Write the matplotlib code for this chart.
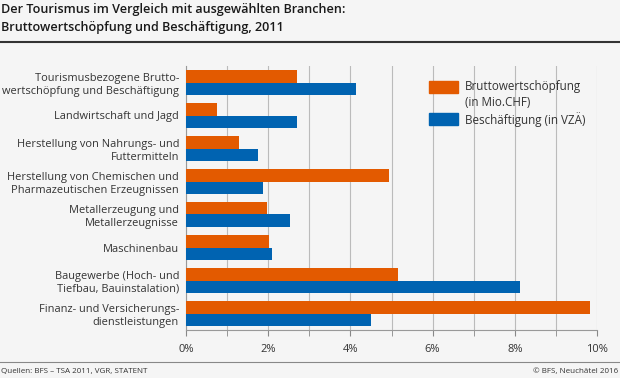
import matplotlib.pyplot as plt
from matplotlib.patches import Rectangle
import numpy as np

plt.rcParams['font.family'] = ['Open Sans', 'DejaVu Sans']

categories = [
    "Tourismusbezogene Brutto-\nwertschöpfung und Beschäftigung",
    "Landwirtschaft und Jagd",
    "Herstellung von Nahrungs- und\nFuttermitteln",
    "Herstellung von Chemischen und\nPharmazeutischen Erzeugnissen",
    "Metallerzeugung und\nMetallerzeugnisse",
    "Maschinenbau",
    "Baugewerbe (Hoch- und\nTiefbau, Bauinstalation)",
    "Finanz- und Versicherungs-\ndienstleistungen",
]
bws = [2.71, 0.75, 1.30, 4.95, 1.97, 2.03, 5.15, 9.82]
besch = [4.13, 2.71, 1.74, 1.88, 2.54, 2.10, 8.13, 4.51]
series_labels = ["Bruttowertschöpfung\n(in Mio.CHF)", "Beschäftigung (in VZÄ)"]
xticks = [0, 2, 4, 6, 8, 10]

BG = "#f5f5f5"
ORANGE = "#e35a00"
BLUE = "#0063b1"
TEXT = "#333333"


def px(x, y):
    # pixel position (from top-left) -> figure fraction
    return x / 620, 1 - y / 378


fig = plt.figure(figsize=(6.2, 3.78), dpi=100, facecolor=BG)
ax = fig.add_axes([186 / 620, 1 - 330 / 378, 411 / 620, 264 / 378])
ax.set_facecolor(BG)

y = np.arange(len(categories))
h = 0.37
ax.barh(y - h / 2, bws, height=h, color=ORANGE, zorder=3)
ax.barh(y + h / 2, besch, height=h, color=BLUE, zorder=3)

ax.set_ylim(len(categories) - 0.5, -0.5)
ax.set_xlim(0, 10)
ax.set_yticks(y)
ax.set_yticklabels(categories, fontsize=7.9, color=TEXT)
ax.tick_params(axis="y", length=0, pad=5)
ax.set_xticks(xticks)
ax.set_xticklabels([f"{t}%" for t in xticks], fontsize=8, color=TEXT)
ax.set_xticks(np.arange(0, 11, 1), minor=True)
ax.tick_params(axis="x", which="both", length=4, color="#888888", pad=6)
ax.grid(axis="x", which="both", color="#bbbbbb", linewidth=0.8, zorder=0)

for s in ["top", "right"]:
    ax.spines[s].set_visible(False)
for s in ["left", "bottom"]:
    ax.spines[s].set_color("#999999")
    ax.spines[s].set_linewidth(0.8)

# legend drawn by hand so the patch sits next to the first label line
for (ly, label, color) in [(81, series_labels[0], ORANGE), (113, series_labels[1], BLUE)]:
    x0, y0 = px(429, ly + 12)
    fig.add_artist(Rectangle((x0, y0), 29 / 620, 12 / 378, color=color,
                             transform=fig.transFigure))
    fig.text(*px(465, ly - 1), label, fontsize=8.4, color=TEXT, va="top",
             linespacing=1.35)

fig.text(*px(1, 3.5), "Der Tourismus im Vergleich mit ausgewählten Branchen:\n"
         "Bruttowertschöpfung und Beschäftigung, 2011",
         fontsize=9.1, fontweight="semibold", color="#1a1a1a", va="top",
         linespacing=1.42)
fig.add_artist(plt.Line2D([0, 1], [1 - 42 / 378] * 2, color="#333333", linewidth=1.5))
fig.add_artist(plt.Line2D([0, 1], [1 - 362 / 378] * 2, color="#888888", linewidth=0.8))
fig.text(*px(1, 371), "Quellen: BFS – TSA 2011, VGR, STATENT",
         fontsize=5.8, color=TEXT, va="center")
fig.text(*px(618, 371), "© BFS, Neuchâtel 2016",
         fontsize=5.8, color=TEXT, va="center", ha="right")

fig.savefig("out.png", dpi=100, facecolor=BG)
